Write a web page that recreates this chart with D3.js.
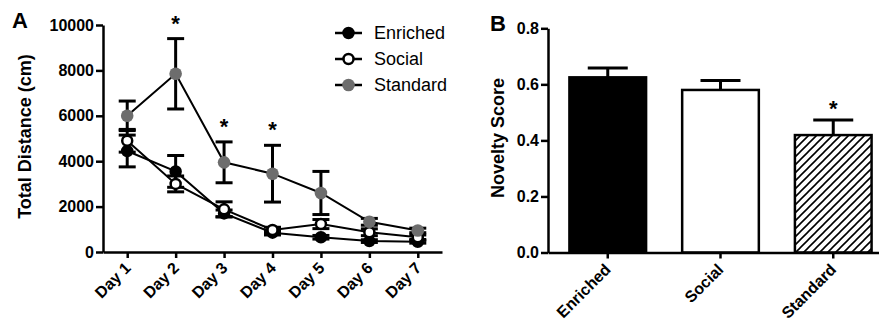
<!DOCTYPE html>
<html>
<head>
<meta charset="utf-8">
<script src="https://cdn.jsdelivr.net/npm/d3@7"></script>
<style>
  body { margin: 0; background: #fff; }
  svg { display: block; font-family: "Liberation Sans", Arial, sans-serif; }
</style>
</head>
<body>
<svg id="fig" width="879" height="328"></svg>
<script>
// Panel A - total distance per day
const days = ["Day 1", "Day 2", "Day 3", "Day 4", "Day 5", "Day 6", "Day 7"];
const enrichedMean = [4450, 3550, 1700, 850, 650, 480, 450];
const enrichedSem = [700, 700, 150, 100, 80, 60, 60];
const socialMean = [4900, 3000, 1880, 970, 1230, 870, 650];
const socialSem = [500, 350, 330, 120, 200, 150, 100];
const standardMean = [6000, 7850, 3950, 3450, 2600, 1330, 950];
const standardSem = [650, 1550, 900, 1250, 950, 150, 100];
const starDaysA = ["Day 2", "Day 3", "Day 4"];
const distTicks = [0, 2000, 4000, 6000, 8000, 10000];

// Panel B - novelty score
const groups = ["Enriched", "Social", "Standard"];
const noveltyMean = [0.625, 0.580, 0.419];
const noveltySem = [0.033, 0.034, 0.054];
const noveltyTicks = [0.0, 0.2, 0.4, 0.6, 0.8];

const svg = d3.select("#fig");
const gray = "#6d6d6d";

// hatch for the Standard bar
svg.append("defs").append("pattern")
    .attr("id", "hatch")
    .attr("patternUnits", "userSpaceOnUse")
    .attr("width", 8).attr("height", 8)
    .append("path")
    .attr("d", "M-2,2 l4,-4 M0,8 l8,-8 M6,10 l4,-4")
    .attr("stroke", "#000")
    .attr("stroke-width", 1.6);

function styleAxis(g) {
    g.selectAll("path, line").attr("stroke", "#000").attr("stroke-width", 2.5);
    g.selectAll("text")
        .attr("fill", "#000")
        .style("font-size", "16px")
        .style("font-weight", "bold")
        .style("font-family", "'Liberation Sans', Arial, sans-serif");
}

// ---------- Panel A ----------
const xA = d3.scalePoint().domain(days).range([103, 442]).padding(0.5);
const yA = d3.scaleLinear().domain([0, 10000]).range([252, 25]);

const axA_y = svg.append("g")
    .attr("transform", "translate(103,0)")
    .call(d3.axisLeft(yA).tickValues(distTicks).tickSize(7).tickSizeOuter(0).tickPadding(2).tickFormat(d3.format("d")));
styleAxis(axA_y);

const axA_x = svg.append("g")
    .attr("transform", "translate(0,252)")
    .call(d3.axisBottom(xA).tickSize(6).tickSizeOuter(0));
styleAxis(axA_x);
axA_x.selectAll("text")
    .attr("text-anchor", "end")
    .attr("dy", null)
    .attr("y", null)
    .attr("transform", "translate(4,17) rotate(-45)");

svg.append("text")
    .attr("transform", `translate(31,${(51 + 222) / 2}) rotate(-90)`)
    .attr("text-anchor", "middle")
    .style("font-size", "18px")
    .style("font-weight", "bold")
    .text("Total Distance (cm)");

const seriesA = [
    { name: "Enriched", mean: enrichedMean, sem: enrichedSem, fill: "#000", stroke: "#000", r: 5 },
    { name: "Social", mean: socialMean, sem: socialSem, fill: "#fff", stroke: "#000", r: 5 },
    { name: "Standard", mean: standardMean, sem: standardSem, fill: gray, stroke: "none", r: 6.3 }
];

const line = d3.line()
    .x((d, i) => xA(days[i]))
    .y(d => yA(d));

// lines
seriesA.forEach(s => {
    svg.append("path")
        .datum(s.mean)
        .attr("fill", "none")
        .attr("stroke", "#000")
        .attr("stroke-width", 2)
        .attr("d", line);
});

// error bars
seriesA.forEach(s => {
    const eb = svg.append("g");
    s.mean.forEach((m, i) => {
        const x = xA(days[i]);
        const top = yA(m + s.sem[i]);
        const bot = yA(m - s.sem[i]);
        eb.append("line").attr("x1", x).attr("x2", x).attr("y1", top).attr("y2", bot);
        eb.append("line").attr("x1", x - 8.5).attr("x2", x + 8.5).attr("y1", top).attr("y2", top);
        eb.append("line").attr("x1", x - 8.5).attr("x2", x + 8.5).attr("y1", bot).attr("y2", bot);
    });
    eb.selectAll("line").attr("stroke", "#000").attr("stroke-width", 3);
});

// markers
seriesA.forEach(s => {
    svg.append("g").selectAll("circle")
        .data(s.mean)
        .enter()
        .append("circle")
        .attr("cx", (d, i) => xA(days[i]))
        .attr("cy", d => yA(d))
        .attr("r", s.r)
        .attr("fill", s.fill)
        .attr("stroke", s.stroke)
        .attr("stroke-width", 2.5);
});

// significance stars
starDaysA.forEach(day => {
    const i = days.indexOf(day);
    svg.append("text")
        .attr("x", xA(day))
        .attr("y", yA(standardMean[i] + standardSem[i]) - 8)
        .attr("text-anchor", "middle")
        .style("font-size", "22px")
        .style("font-weight", "bold")
        .text("*");
});

// legend
const legend = svg.append("g");
seriesA.forEach((s, i) => {
    const y = 33 + i * 26;
    legend.append("line")
        .attr("x1", 335).attr("x2", 362).attr("y1", y).attr("y2", y)
        .attr("stroke", "#000").attr("stroke-width", 2.5);
    legend.append("circle")
        .attr("cx", 348.5).attr("cy", y).attr("r", s.r)
        .attr("fill", s.fill).attr("stroke", s.stroke).attr("stroke-width", 2.5);
    legend.append("text")
        .attr("x", 374).attr("y", y)
        .attr("dy", "0.36em")
        .style("font-size", "18px")
        .text(s.name);
});

svg.append("text")
    .attr("x", 12).attr("y", 28)
    .style("font-size", "22px")
    .style("font-weight", "bold")
    .text("A");

// ---------- Panel B ----------
const xB = d3.scaleBand().domain(groups).range([548, 893]).paddingInner(0.32).paddingOuter(0.19);
const yB = d3.scaleLinear().domain([0, 0.8]).range([252.5, 28.3]);

const fills = ["#000", "#fff", "url(#hatch)"];

// error bars (upper only, behind the bar)
groups.forEach((g, i) => {
    const cx = xB(g) + xB.bandwidth() / 2;
    const top = yB(noveltyMean[i] + noveltySem[i]);
    svg.append("line")
        .attr("x1", cx).attr("x2", cx)
        .attr("y1", top).attr("y2", yB(noveltyMean[i]))
        .attr("stroke", "#000").attr("stroke-width", 3);
    svg.append("line")
        .attr("x1", cx - 20).attr("x2", cx + 20)
        .attr("y1", top).attr("y2", top)
        .attr("stroke", "#000").attr("stroke-width", 3);
});

svg.append("g").selectAll("rect")
    .data(noveltyMean)
    .enter()
    .append("rect")
    .attr("x", (d, i) => xB(groups[i]))
    .attr("y", d => yB(d))
    .attr("width", xB.bandwidth())
    .attr("height", d => yB(0) - yB(d))
    .attr("fill", (d, i) => fills[i])
    .attr("stroke", "#000")
    .attr("stroke-width", 2.5);

const axB_y = svg.append("g")
    .attr("transform", "translate(548,0)")
    .call(d3.axisLeft(yB).tickValues(noveltyTicks).tickSize(7).tickSizeOuter(0).tickPadding(2).tickFormat(d3.format(".1f")));
styleAxis(axB_y);

const axB_x = svg.append("g")
    .attr("transform", "translate(0,252.5)")
    .call(d3.axisBottom(xB).tickSize(6).tickSizeOuter(0));
styleAxis(axB_x);
axB_x.selectAll("text")
    .attr("text-anchor", "end")
    .attr("dy", null)
    .attr("y", null)
    .attr("transform", "translate(4,18) rotate(-45)");

// star over Standard
svg.append("text")
    .attr("x", xB("Standard") + xB.bandwidth() / 2)
    .attr("y", yB(noveltyMean[2] + noveltySem[2]) - 4)
    .attr("text-anchor", "middle")
    .style("font-size", "22px")
    .style("font-weight", "bold")
    .text("*");

svg.append("text")
    .attr("transform", `translate(504,138) rotate(-90)`)
    .attr("text-anchor", "middle")
    .style("font-size", "18px")
    .style("font-weight", "bold")
    .text("Novelty Score");

svg.append("text")
    .attr("x", 490).attr("y", 31)
    .style("font-size", "22px")
    .style("font-weight", "bold")
    .text("B");
</script>
</body>
</html>
